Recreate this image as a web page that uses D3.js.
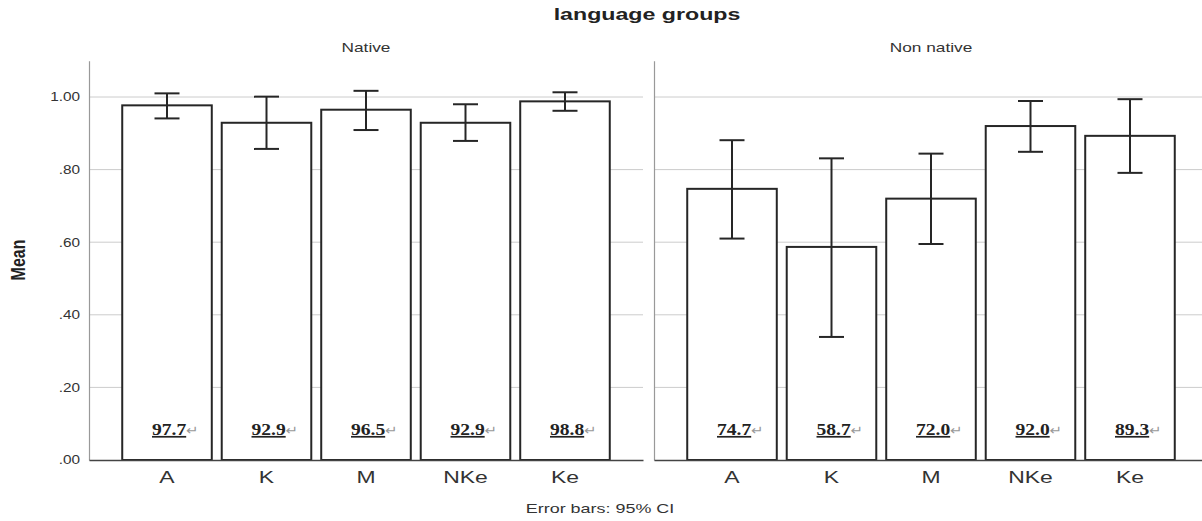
<!DOCTYPE html>
<html>
<head>
    <style>
        body { margin: 0; background: #fff; }
        text { font-family: "Liberation Sans", Arial, sans-serif; fill: #222; }
        .pct { font-family: "Liberation Serif", "Times New Roman", serif; font-weight: bold; }
    </style>
    <script src="https://d3js.org/d3.v7.min.js"></script>
</head>
<body>
    <svg width="1202" height="521"></svg>
    <script>
        var categories = ["A", "K", "M", "NKe", "Ke"];
        var groups = ["Native", "Non native"];
        // percent correct, printed inside the bars (mean = pct / 100)
        var nativePct = [97.7, 92.9, 96.5, 92.9, 98.8];
        var nonNativePct = [74.7, 58.7, 72.0, 92.0, 89.3];
        // 95% CI ends
        var nativeLow = [0.941, 0.857, 0.909, 0.879, 0.962];
        var nativeHigh = [1.010, 1.001, 1.017, 0.980, 1.013];
        var nonNativeLow = [0.610, 0.339, 0.595, 0.849, 0.791];
        var nonNativeHigh = [0.881, 0.831, 0.844, 0.989, 0.994];
        var yTicks = [0, 0.2, 0.4, 0.6, 0.8, 1.0];
        var yTickLabels = [".00", ".20", ".40", ".60", ".80", "1.00"];

        var panels = [
            { name: groups[0], pct: nativePct, low: nativeLow, high: nativeHigh },
            { name: groups[1], pct: nonNativePct, low: nonNativeLow, high: nonNativeHigh }
        ];

        var svg = d3.select("svg");

        var y = d3.scaleLinear().domain([0, 1.1]).range([460, 60.7]);
        var px = d3.scaleBand().domain(groups).range([89, 1208]).paddingInner(11 / 565);
        var x = d3.scaleBand().domain(categories).range([0, px.bandwidth()])
            .paddingInner(0.1).paddingOuter(0.334);

        // title
        svg.append("text").attr("transform", "translate(647,20) scale(1.45,1)")
            .attr("text-anchor", "middle").style("font-size", "16px").style("font-weight", "bold")
            .text("language groups");

        // y label
        svg.append("text").attr("transform", "translate(25,260) scale(1.3,1) rotate(-90)")
            .attr("text-anchor", "middle").style("font-size", "16px").style("font-weight", "bold")
            .text("Mean");

        panels.forEach(function(p, pi) {
            var g = svg.append("g").attr("transform", "translate(" + px(p.name) + ",0)");

            // panel title
            g.append("text").attr("transform", "translate(" + (px.bandwidth() / 2) + ",52) scale(1.33,1)")
                .attr("text-anchor", "middle").style("font-size", "13px").style("fill", "#333")
                .text(p.name);

            // grid
            g.selectAll(".grid").data(yTicks.filter(function(d) { return d > 0; })).enter()
                .append("line").attr("class", "grid")
                .attr("x1", 0).attr("x2", px.bandwidth())
                .attr("y1", function(d) { return y(d); }).attr("y2", function(d) { return y(d); })
                .attr("stroke", "#cccccc").attr("stroke-width", 1);

            // left axis
            var ya = g.append("g").call(d3.axisLeft(y).tickValues(yTicks).tickSize(0).tickPadding(7)
                .tickFormat(function(d, i) { return pi === 0 ? yTickLabels[i] : ""; }));
            ya.select(".domain").attr("stroke", "#999").attr("stroke-width", 1.2);
            ya.selectAll("text").style("font-size", "12px").style("fill", "#333")
                .style("font-family", "'Liberation Sans', Arial, sans-serif")
                .attr("transform", "scale(1.28,1)");

            var data = categories.map(function(c, i) {
                return { cat: c, pct: p.pct[i], mean: p.pct[i] / 100, lo: p.low[i], hi: p.high[i] };
            });

            // bars
            g.selectAll(".bar").data(data).enter().append("rect").attr("class", "bar")
                .attr("x", function(d) { return x(d.cat); })
                .attr("width", x.bandwidth())
                .attr("y", function(d) { return y(d.mean); })
                .attr("height", function(d) { return y(0) - y(d.mean); })
                .attr("fill", "#fff").attr("stroke", "#262626").attr("stroke-width", 2);

            // error bars
            var eb = g.selectAll(".err").data(data).enter().append("g").attr("class", "err")
                .attr("transform", function(d) { return "translate(" + (x(d.cat) + x.bandwidth() / 2) + ",0)"; })
                .attr("stroke", "#262626").attr("stroke-width", 2);
            eb.append("line").attr("x1", 0).attr("x2", 0)
                .attr("y1", function(d) { return y(d.hi); }).attr("y2", function(d) { return y(d.lo); });
            eb.append("line").attr("x1", -12.5).attr("x2", 12.5)
                .attr("y1", function(d) { return y(d.hi); }).attr("y2", function(d) { return y(d.hi); });
            eb.append("line").attr("x1", -12.5).attr("x2", 12.5)
                .attr("y1", function(d) { return y(d.lo); }).attr("y2", function(d) { return y(d.lo); });

            // percent labels
            var lab = g.selectAll(".lab").data(data).enter().append("text").attr("class", "lab")
                .attr("transform", function(d) { return "translate(" + (x(d.cat) + x.bandwidth() / 2 - 15) + ",435) scale(1.15,1)"; })
                .style("font-size", "17px");
            lab.append("tspan").attr("class", "pct").style("text-decoration", "underline")
                .text(function(d) { return d.pct.toFixed(1); });
            lab.append("tspan").style("font-size", "13px").style("fill", "#999")
                .style("font-family", "'DejaVu Sans', sans-serif").text("\u21B5");

            // bottom axis
            var xa = g.append("g").attr("transform", "translate(0," + y(0) + ")")
                .call(d3.axisBottom(x).tickSize(0).tickPadding(11));
            xa.select(".domain").attr("stroke", "#444").attr("stroke-width", 1.5);
            xa.selectAll("text").style("font-size", "17px").style("fill", "#333")
                .style("font-family", "'Liberation Sans', Arial, sans-serif")
                .attr("transform", "scale(1.35,1)");
        });

        // footnote
        svg.append("text").attr("transform", "translate(600,513) scale(1.38,1)")
            .attr("text-anchor", "middle").style("font-size", "13px").style("fill", "#333")
            .text("Error bars: 95% CI");
    </script>
</body>
</html>
